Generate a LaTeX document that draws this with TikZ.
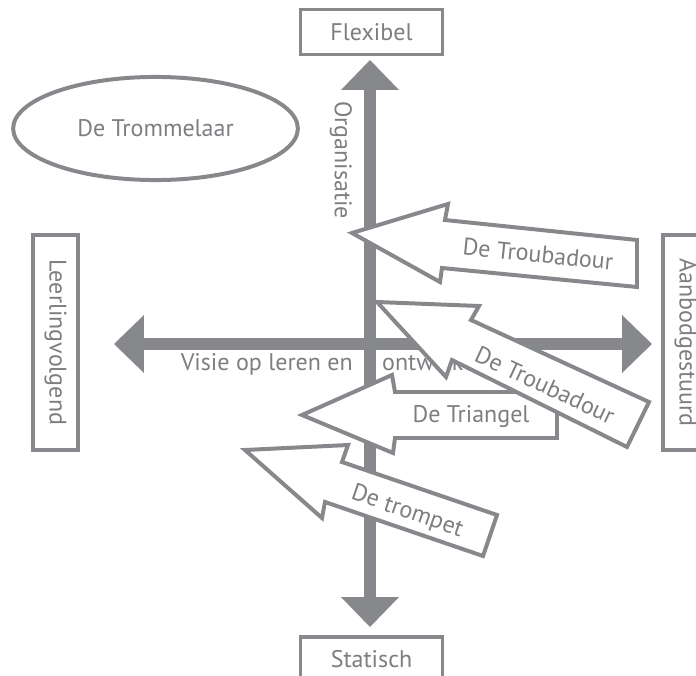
\documentclass[tikz,border=0pt]{standalone}
\usepackage{fontspec}
\setmainfont{PT Sans}
\usetikzlibrary{arrows.meta,positioning,shapes.geometric}
\definecolor{axisgrey}{RGB}{135,136,140}
\definecolor{labelgrey}{RGB}{125,126,130}
\tikzset{
  lbl/.style={text=labelgrey,font=\fontsize{20.5}{24}\selectfont,inner sep=0pt},
  pole/.style={lbl,draw=axisgrey,line width=2.6pt,fill=white,
               minimum width=120.4pt,minimum height=37.6pt},
  vpole/.style={pole,rotate=-90,minimum width=183.5pt,minimum height=38.4pt},
  axis/.style={draw=axisgrey,line width=10.5pt,
    {Triangle[length=25.6pt,width=49.5pt,line width=0pt]}-{Triangle[length=25.6pt,width=49.5pt,line width=0pt]}},
  blockarrow/.style={draw=axisgrey,fill=white,line width=3.4pt,line join=miter},
}

\begin{document}
\begin{tikzpicture}[x=0.03cm,y=-0.03cm]
  \useasboundingbox (0,0) rectangle (696,676);
  % the four poles
  \node[pole] (flex) at (371.5,32) {Flexibel};
  \node[pole] (stat) at (371.5,659) {Statisch};
  \node[vpole] (leer) at (55.5,342.5) {Leerlingvolgend};
  \node[vpole] (aanb) at (685.5,342.5) {Aanbodgestuurd};
  \node[lbl,ellipse,draw=axisgrey,line width=3.4pt,minimum width=243pt,
        minimum height=88pt] (tromm) at (155.5,128.5) {De Trommelaar};
  % axes
  \coordinate (top) at (370,60);
  \coordinate (bot) at (370,627);
  \coordinate (lft) at (114,344);
  \coordinate (rgt) at (652,344);
  \node[lbl,rotate=-90] (org) at (341,160) {Organisatie};
  \node[lbl,anchor=base east] (visie) at (353,370) {Visie op leren en};
  \node[lbl,anchor=base west] (ontw) at (382,370) {ontwikkeling};
  \draw[axis] (top) -- (bot);
  \draw[axis] (lft) -- (rgt);
  % instruments
  \draw[blockarrow] (245,450) -- (348,445) -- (342,462) -- (497,515)
    -- (483,556) -- (325,502) -- (322,518) -- cycle;
  \node[lbl,rotate=-19] (trompet) at (407,512) {De trompet};
  \draw[blockarrow] (302,415) -- (392,375) -- (395,392) -- (557,392)
    -- (557,438) -- (395,438) -- (393,453) -- cycle;
  \node[lbl] (triangel) at (471,417) {De Triangel};
  \draw[blockarrow] (377,302) -- (479,306) -- (471,320) -- (649,402)
    -- (627,447) -- (452,360) -- (446,377) -- cycle;
  \node[lbl,rotate=-25] (troub2) at (545,385) {De Troubadour};
  \draw[blockarrow] (352,233) -- (448,204) -- (445,220) -- (637,240)
    -- (637,287) -- (442,268) -- (440,282) -- cycle;
  \node[lbl,rotate=-6] (troub1) at (538,254) {De Troubadour};
\end{tikzpicture}
\end{document}
